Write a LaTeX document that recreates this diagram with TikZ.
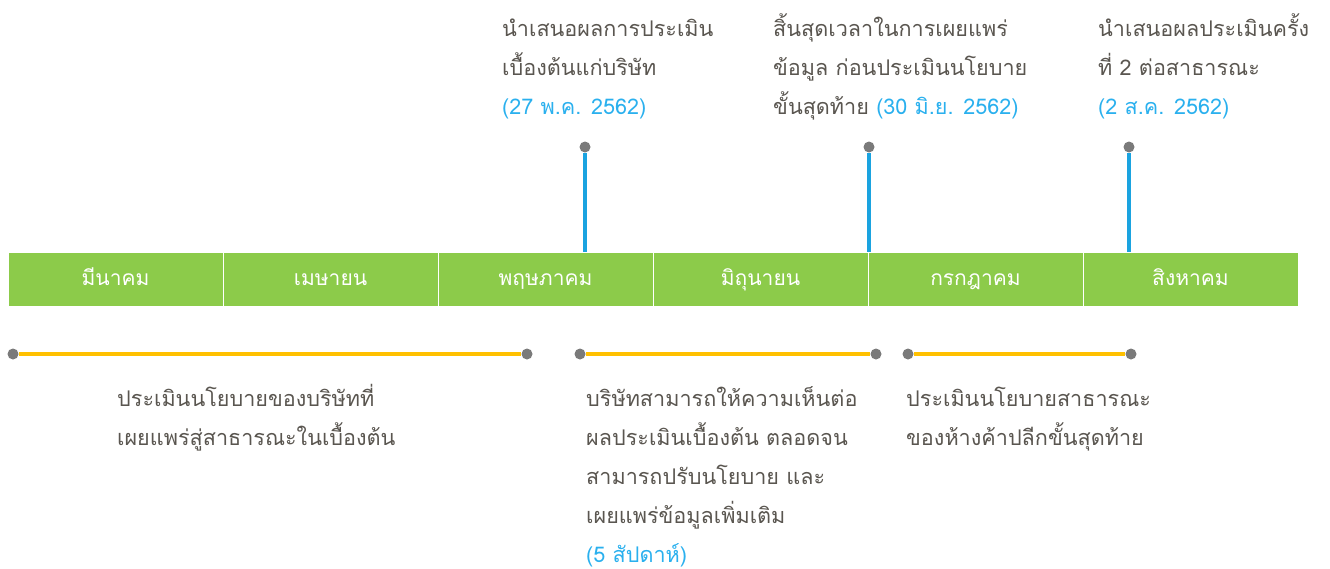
\documentclass[tikz,border=0pt]{standalone}
\usepackage{fontspec}
\newfontfamily\thaifont[Script=Thai]{Loma}
\definecolor{barGreen}{HTML}{8CCB4A}
\definecolor{tickBlue}{HTML}{1AA3E0}
\definecolor{spanYellow}{HTML}{FFC000}
\definecolor{dotGray}{HTML}{7A7A7A}
\definecolor{txtGray}{HTML}{5A5650}
\definecolor{dateBlue}{HTML}{2AB0EE}
\newcommand\firststrut{\rule{0pt}{30pt}}
\tikzset{
  month/.style={fill=barGreen, draw=white, line width=0.8pt, minimum width=215pt, minimum height=54pt, inner sep=0pt, text height=15pt, text depth=3pt, text=white, font=\thaifont\fontsize{21}{24}\selectfont},
  gdot/.style={circle, fill=dotGray, inner sep=0pt, minimum size=11pt},
  vline/.style={draw=tickBlue, line width=4pt},
  span/.style={draw=spanYellow, line width=4pt},
  note/.style={anchor=north west, align=left, inner sep=0pt, text=txtGray, font=\thaifont\fontsize{21.6}{39}\selectfont},
}
\begin{document}
\begin{tikzpicture}[x=1pt,y=-1pt]
\useasboundingbox (0,0) rectangle (1330,568);
% month bar
\node[month] (m1) at (115.5,279) {มีนาคม};
\node[month] (m2) at (330.5,279) {เมษายน};
\node[month] (m3) at (545.5,279) {พฤษภาคม};
\node[month] (m4) at (760.5,279) {มิถุนายน};
\node[month] (m5) at (975.5,279) {กรกฎาคม};
\node[month] (m6) at (1190.5,279) {สิงหาคม};
% top markers
\node[gdot] (t1) at (585,147) {};
\node[gdot] (t2) at (869,147) {};
\node[gdot] (t3) at (1129,147) {};
\coordinate (b1) at (585,252);
\coordinate (b2) at (869,252);
\coordinate (b3) at (1129,252);
\draw[vline] (t1) -- (b1);
\draw[vline] (t2) -- (b2);
\draw[vline] (t3) -- (b3);
% top notes
\node[note] (n1) at (502,6) {\firststrut นำเสนอผลการประเมิน\\เบื้องต้นแก่บริษัท\\\textcolor{dateBlue}{(27 พ.ค. 2562)}};
\node[note] (n2) at (773,6) {\firststrut สิ้นสุดเวลาในการเผยแพร่\\ข้อมูล ก่อนประเมินนโยบาย\\ขั้นสุดท้าย \textcolor{dateBlue}{(30 มิ.ย. 2562)}};
\node[note] (n3) at (1098,6) {\firststrut นำเสนอผลประเมินครั้ง\\ที่ 2 ต่อสาธารณะ\\\textcolor{dateBlue}{(2 ส.ค. 2562)}};
% spans
\node[gdot] (s1a) at (13,354) {};
\node[gdot] (s1b) at (527,354) {};
\node[gdot] (s2a) at (580,354) {};
\node[gdot] (s2b) at (876,354) {};
\node[gdot] (s3a) at (908,354) {};
\node[gdot] (s3b) at (1131,354) {};
\draw[span] (s1a) -- (s1b);
\draw[span] (s2a) -- (s2b);
\draw[span] (s3a) -- (s3b);
% bottom notes
\node[note] (d1) at (117,376) {\firststrut ประเมินนโยบายของบริษัทที่\\เผยแพร่สู่สาธารณะในเบื้องต้น};
\node[note] (d2) at (586,376) {\firststrut บริษัทสามารถให้ความเห็นต่อ\\ผลประเมินเบื้องต้น ตลอดจน\\สามารถปรับนโยบาย และ\\เผยแพร่ข้อมูลเพิ่มเติม\\\textcolor{dateBlue}{(5 สัปดาห์)}};
\node[note] (d3) at (906,376) {\firststrut ประเมินนโยบายสาธารณะ\\ของห้างค้าปลีกขั้นสุดท้าย};
\end{tikzpicture}
\end{document}
